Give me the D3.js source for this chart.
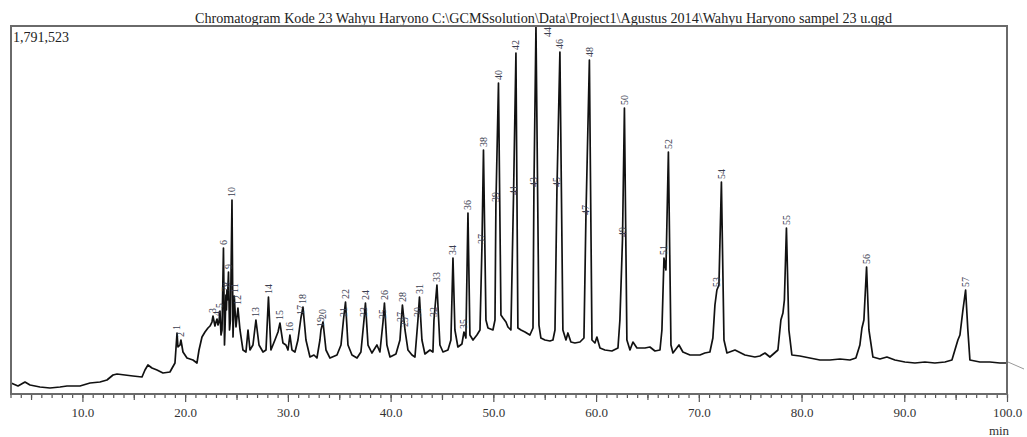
<!DOCTYPE html>
<html><head><meta charset="utf-8">
<script src="https://cdn.jsdelivr.net/npm/d3@7"></script>
<style>body{margin:0;background:#fff} svg{display:block}</style>
</head><body><svg id="c" width="1027" height="437"></svg>
<script>
const titleText = "Chromatogram Kode 23 Wahyu Haryono C:\\GCMSsolution\\Data\\Project1\\Agustus 2014\\Wahyu Haryono sampel 23 u.qgd";
const maxIntensity = 1791523;
const timeDomain = [3, 100];
const majorTicks = [10, 20, 30, 40, 50, 60, 70, 80, 90, 100];
const xUnit = "min";

// chromatogram trace: [retention time (min), intensity (counts)]
const trace = [
[3.05,53500],[3.73,38900],[4.41,58400],[4.90,43800],[5.87,34100],[6.84,29200],[7.82,34100],[8.50,38900],
[9.76,38900],[10.74,53500],[11.71,58400],[12.39,68200],[12.98,92500],[13.37,97400],[14.14,92500],[14.92,87600],
[15.80,82800],[16.09,116800],[16.38,141200],[16.77,126600],[17.26,116800],[17.84,102200],[18.52,107100],[19.01,150900],
[19.21,297000],[19.30,228800],[19.50,238500],[19.59,262900],[19.79,204500],[20.18,175200],[20.76,165500],[21.15,150900],
[21.35,214200],[21.64,277500],[21.93,301800],[22.22,321300],[22.42,331000],[22.61,350500],[22.71,379700],[22.90,331000],
[23.00,350500],[23.10,365100],[23.20,335900],[23.29,350500],[23.39,404000],[23.49,287200],[23.59,311600],[23.73,710700],
[23.83,238500],[23.88,311600],[23.97,481900],[24.02,408900],[24.07,506300],[24.12,457600],[24.22,593900],[24.32,311600],
[24.41,360200],[24.56,944400],[24.66,277500],[24.78,477100],[24.95,326200],[25.14,418600],[25.34,311600],[25.63,214200],
[25.92,204500],[26.12,311600],[26.31,214200],[26.60,238500],[26.89,360200],[27.19,238500],[27.58,204500],[27.87,214200],
[28.11,472200],[28.35,214200],[28.74,262900],[29.04,301800],[29.23,345600],[29.52,248300],[29.81,238500],[30.01,214200],
[30.20,287200],[30.40,214200],[30.69,204500],[30.98,262900],[31.27,370000],[31.47,423500],[31.76,262900],[32.15,180100],
[32.54,189900],[32.83,175200],[33.12,262900],[33.22,311600],[33.42,350500],[33.71,214200],[34.10,175200],[34.78,189900],
[35.17,238500],[35.41,360200],[35.61,447900],[35.85,238500],[36.24,189900],[36.73,175200],[37.11,204500],[37.41,360200],
[37.55,443000],[37.80,238500],[38.18,199600],[38.67,238500],[38.96,204500],[39.26,350500],[39.40,443000],[39.64,238500],
[39.94,180100],[40.52,194700],[40.91,262900],[41.01,335900],[41.15,433300],[41.40,311600],[41.69,214200],[42.08,189900],
[42.37,180100],[42.66,360200],[42.81,472200],[43.05,262900],[43.34,194700],[43.83,214200],[44.12,204500],[44.22,360200],
[44.51,530600],[44.80,238500],[45.10,204500],[45.58,214200],[45.87,262900],[46.07,662000],[46.26,311600],[46.55,228800],
[46.94,243400],[47.14,301800],[47.33,272600],[47.53,881100],[47.72,287200],[48.02,262900],[48.40,287200],[48.70,311600],
[48.89,715600],[49.04,1187800],[49.28,360200],[49.48,321300],[49.96,311600],[50.16,360200],[50.25,920100],[50.50,1513900],
[50.74,384600],[50.94,370000],[51.23,350500],[51.42,326200],[51.71,311600],[51.96,954100],[52.20,1660000],[52.39,321300],
[52.69,311600],[53.08,301800],[53.56,287200],[53.86,321300],[53.95,993100],[54.15,1791523],[54.44,335900],[54.63,272600],
[55.02,262900],[55.51,258000],[55.80,262900],[56.00,311600],[56.19,993100],[56.48,1664900],[56.77,311600],[57.07,262900],
[57.26,297000],[57.55,253100],[57.94,248300],[58.43,253100],[58.82,272600],[59.01,856800],[59.35,1625900],[59.60,262900],
[59.89,248300],[60.08,277500],[60.38,223900],[60.86,214200],[61.54,209300],[62.13,223900],[62.32,360200],[62.57,749700],
[62.76,1392200],[63.00,262900],[63.30,214200],[63.59,253100],[63.98,223900],[64.76,223900],[65.24,228800],[65.73,209300],
[66.22,214200],[66.41,311600],[66.61,662000],[66.80,603600],[67.04,1178100],[67.29,238500],[67.48,199600],[68.07,238500],
[68.45,204500],[69.14,189900],[70.11,189900],[70.59,199600],[71.08,204500],[71.37,272600],[71.57,433300],[71.76,506300],
[71.96,530600],[72.20,1032000],[72.45,262900],[72.74,199600],[73.52,214200],[74.49,189900],[75.46,180100],[75.95,185000],
[76.44,199600],[76.92,180100],[77.70,214200],[77.99,360200],[78.19,394300],[78.33,457600],[78.53,808100],[78.77,311600],
[79.06,189900],[79.84,185000],[80.81,175200],[81.79,165500],[82.76,165500],[83.74,170400],[84.71,165500],[85.29,175200],
[85.68,238500],[85.88,321300],[86.07,360200],[86.33,618200],[86.56,311600],[86.95,180100],[87.63,170400],[88.31,180100],
[89.09,165500],[90.06,155800],[91.04,150900],[92.01,155800],[92.98,150900],[93.96,155800],[94.64,165500],[94.93,214200],
[95.22,262900],[95.42,287200],[95.71,408900],[95.97,506300],[96.19,311600],[96.39,165500],[97.36,155800],[98.33,155800],
[99.31,150900],[99.99,150900]
];

// labelled peaks: number, retention time (min), intensity at label (counts)
const peakNo = [1,2,3,4,5,6,7,8,9,10,11,12,13,14,15,16,17,18,19,20,21,22,23,24,25,26,27,28,29,30,31,32,33,34,35,36,37,38,39,40,41,42,43,44,45,46,47,48,49,50,51,52,53,54,55,56,57];
const peakTime = [19.21,19.59,22.71,23.10,23.39,23.73,23.97,24.07,24.22,24.56,24.78,25.14,26.89,28.11,29.23,30.20,31.27,31.47,33.22,33.42,35.41,35.61,37.41,37.55,39.26,39.40,41.01,41.15,41.40,42.66,42.81,44.22,44.51,46.07,47.14,47.53,48.89,49.04,50.25,50.50,51.96,52.20,53.95,54.15,56.19,56.48,59.01,59.35,62.57,62.76,66.61,67.04,71.76,72.20,78.53,86.33,95.97];
const peakIntensity = [297000,262900,379700,365100,404000,710700,481900,506300,593900,944400,477100,418600,360200,472200,345600,287200,370000,423500,311600,350500,360200,447900,360200,443000,350500,443000,335900,433300,311600,360200,472200,360200,530600,662000,301800,881100,715600,1187800,920100,1513900,954100,1660000,993100,1791523,993100,1664900,856800,1625900,749700,1392200,662000,1178100,506300,1032000,808100,618200,506300];

const svg = d3.select("#c");
const L = 10.5, R = 1007, T = 26, B = 394;
const x = d3.scaleLinear().domain(timeDomain).range([L, R]);
const y = d3.scaleLinear().domain([0, maxIntensity]).range([B, T]);
const serif = "'Liberation Serif','Times New Roman',serif";

// title
svg.append("text").attr("x", 195).attr("y", 22.5)
  .attr("textLength", 697).attr("lengthAdjust", "spacingAndGlyphs")
  .style("font-family", serif).style("font-size", "14px").attr("fill", "#222")
  .text(titleText);

// trace
svg.append("clipPath").attr("id", "clip").append("rect")
  .attr("x", L).attr("y", T - 1).attr("width", R - L).attr("height", B - T + 1);
svg.append("path").datum(trace)
  .attr("clip-path", "url(#clip)")
  .attr("fill", "none").attr("stroke", "#111").attr("stroke-width", 1.7)
  .attr("stroke-linejoin", "round")
  .attr("d", d3.line().x(d => x(d[0])).y(d => y(d[1])));

// small marker beyond right edge
svg.append("line").attr("x1", R + 1).attr("y1", y(trace[trace.length - 1][1]) - 1)
  .attr("x2", R + 17).attr("y2", y(trace[trace.length - 1][1]) + 6)
  .attr("stroke", "#999").attr("stroke-width", 1);

// peak labels
const peaks = peakNo.map((n, i) => ({n, t: peakTime[i], v: peakIntensity[i]}));
svg.append("g").selectAll("text").data(peaks).join("text")
  .attr("transform", d => {
    const atTop = d.v >= maxIntensity;
    const px = x(d.t) + (atTop ? 12 : 0);
    const py = atTop ? T + 11 : y(d.v) - 3;
    return `translate(${px},${py}) rotate(-90)`;
  })
  .attr("dy", "0.33em")
  .style("font-family", serif).style("font-size", "10px").attr("fill", "#3a3d50")
  .text(d => d.n);

// axis ticks
const minorTicks = d3.range(3, 101, 1);
const midTicks = d3.range(5, 101, 10);
const gAx = svg.append("g").attr("transform", `translate(0,${B})`);
gAx.call(d3.axisBottom(x).tickValues(minorTicks).tickSize(4).tickFormat(""));
const gAx2 = svg.append("g").attr("transform", `translate(0,${B})`);
gAx2.call(d3.axisBottom(x).tickValues(midTicks).tickSize(6).tickFormat(""));
const gAx3 = svg.append("g").attr("transform", `translate(0,${B})`);
gAx3.call(d3.axisBottom(x).tickValues(majorTicks).tickSize(8).tickPadding(6).tickFormat(d3.format(".1f")));
[gAx, gAx2, gAx3].forEach(g => {
  g.select(".domain").remove();
  g.selectAll(".tick line").attr("stroke", "#555").attr("stroke-width", 1.2);
});
gAx3.selectAll(".tick text").style("font-family", serif).style("font-size", "13px").attr("fill", "#333");

// frame
svg.append("rect").attr("x", 11).attr("y", T).attr("width", R - 11).attr("height", B - T)
  .attr("fill", "none").attr("stroke", "#6a6a6a").attr("stroke-width", 2);

// max intensity label
svg.append("text").attr("x", 13).attr("y", 42)
  .style("font-family", serif).style("font-size", "14px").attr("fill", "#222")
  .text(d3.format(",")(maxIntensity));

// unit
svg.append("text").attr("x", 999).attr("y", 435).attr("text-anchor", "middle")
  .style("font-family", serif).style("font-size", "13px").attr("fill", "#333")
  .text(xUnit);
</script>
</body></html>
